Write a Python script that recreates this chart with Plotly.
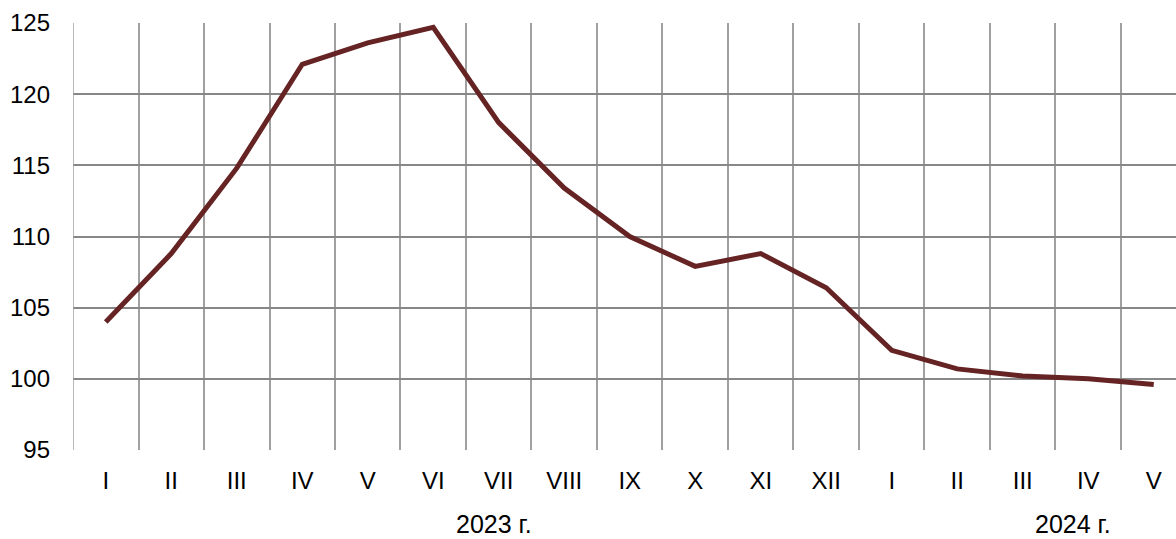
import plotly.graph_objects as go

months = ["I", "II", "III", "IV", "V", "VI", "VII", "VIII", "IX", "X", "XI", "XII",
          "I", "II", "III", "IV", "V"]
values = [104.0, 108.8, 114.8, 122.1, 123.6, 124.7, 118.0, 113.4, 110.0, 107.9,
          108.8, 106.4, 102.0, 100.7, 100.2, 100.0, 99.6]
year_labels = ["2023 г.", "2024 г."]
year_pos = [5.92, 14.76]
y_ticks = [95, 100, 105, 110, 115, 120, 125]

idx = list(range(len(months)))

fig = go.Figure()
fig.add_trace(go.Scatter(
    x=idx, y=values, mode="lines",
    line=dict(color="#652323", width=5),
    hoverinfo="skip", showlegend=False,
))

font = dict(family="Liberation Sans, Arial, sans-serif", size=24, color="#000000")
year_font = dict(family="Liberation Sans, Arial, sans-serif", size=25, color="#000000")

fig.update_layout(
    width=1176, height=539,
    margin=dict(l=73, r=0, t=22.5, b=89.3),
    paper_bgcolor="white", plot_bgcolor="white",
    font=font,
    xaxis=dict(
        range=[-0.5, 16.34],
        tickmode="array", tickvals=idx, ticktext=months,
        showgrid=False, zeroline=False,
        showline=False,
        ticks="", ticklabelstandoff=14,
        minor=dict(tickmode="linear", tick0=-0.5, dtick=1, showgrid=True,
                   gridcolor="#a0a0a0", gridwidth=1.5, ticks=""),
        tickfont=font,
    ),
    yaxis=dict(
        range=[95, 125],
        tickmode="array", tickvals=y_ticks,
        showgrid=True, gridcolor="#878787", gridwidth=2,
        zeroline=False, showline=False,
        ticks="", ticklabelstandoff=22,
        tickfont=font,
    ),
)

# left boundary line
fig.add_shape(type="line", xref="x", yref="paper", x0=-0.5, x1=-0.5, y0=0, y1=1,
              line=dict(color="#a0a0a0", width=1.5))

for lab, pos in zip(year_labels, year_pos):
    fig.add_annotation(text=lab, x=pos, xref="x", y=-0.173, yref="paper",
                       showarrow=False, font=year_font, xanchor="center", yanchor="middle")

fig.write_html("out.html", config={"displayModeBar": False},
               post_script="document.body.style.margin='0';document.body.style.overflow='hidden';")
